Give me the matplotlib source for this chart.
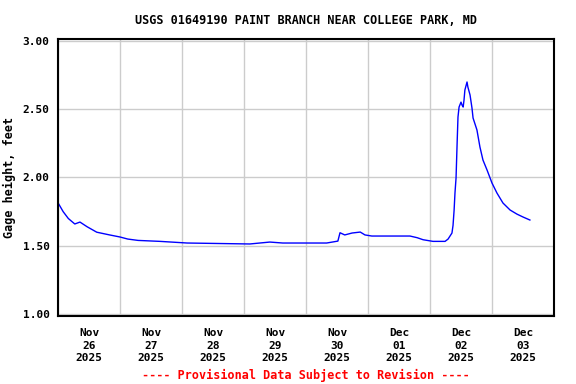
import pandas as pd
import matplotlib.dates as mdates
from matplotlib import pyplot as plt

plt.rcParams['font.family'] = 'DejaVu Sans Mono'
plt.rcParams['font.weight'] = 'bold'
plt.rcParams['axes.titleweight'] = 'bold'
plt.rcParams['axes.labelweight'] = 'bold'
plt.rcParams['font.size'] = 8

times = ["11-26 00:00", "11-26 02:00", "11-26 04:00", "11-26 06:30", "11-26 08:30",
         "11-26 11:15", "11-26 15:00", "11-26 20:00", "11-27 00:00", "11-27 03:00",
         "11-27 07:00", "11-27 15:30", "11-28 02:00", "11-29 02:15", "11-29 10:00",
         "11-29 15:00", "11-30 08:00", "11-30 12:20", "11-30 13:10", "11-30 15:00",
         "11-30 17:50", "11-30 21:00", "11-30 22:50", "12-01 01:30", "12-01 16:15",
         "12-01 19:00", "12-01 21:20", "12-02 01:10", "12-02 05:50", "12-02 07:00",
         "12-02 08:30", "12-02 08:55", "12-02 09:20", "12-02 09:40", "12-02 10:05",
         "12-02 10:30", "12-02 10:50", "12-02 11:15", "12-02 12:00", "12-02 12:25",
         "12-02 12:50", "12-02 13:10", "12-02 13:30", "12-02 14:20", "12-02 14:40",
         "12-02 15:30", "12-02 16:15", "12-02 16:40", "12-02 18:10", "12-02 19:20",
         "12-02 20:30", "12-02 22:05", "12-03 00:00", "12-03 01:55", "12-03 04:15",
         "12-03 07:00", "12-03 09:40", "12-03 12:00", "12-03 14:40"]
gage = [1.815, 1.75, 1.70, 1.66, 1.674,
        1.64, 1.60, 1.58, 1.565, 1.55,
        1.54, 1.533, 1.521, 1.514, 1.528,
        1.521, 1.521, 1.535, 1.596, 1.58,
        1.594, 1.601, 1.58, 1.572, 1.572,
        1.56, 1.545, 1.533, 1.533, 1.55,
        1.594, 1.65, 1.762, 1.886, 1.996,
        2.251, 2.441, 2.514, 2.55, 2.528,
        2.514, 2.565, 2.638, 2.697, 2.66,
        2.602, 2.507, 2.434, 2.347, 2.222,
        2.127, 2.054, 1.959, 1.886, 1.813,
        1.762, 1.732, 1.711, 1.689]

t = pd.to_datetime(["2025-" + s for s in times])

fig = plt.figure(figsize=(5.76, 3.84), dpi=100)
ax = fig.add_axes([58 / 576, 68 / 384, 496 / 576, 277 / 384])

ax.plot(t, gage, color='#0000ff', linewidth=1)

ax.set_xlim(pd.Timestamp("2025-11-26"), pd.Timestamp("2025-12-04"))
ax.set_ylim(0.988, 3.011)
ax.set_yticks([1.0, 1.5, 2.0, 2.5, 3.0])
ax.set_yticklabels(["1.00", "1.50", "2.00", "2.50", "3.00"])

ax.xaxis.set_major_locator(mdates.HourLocator(byhour=[12]))
ax.xaxis.set_major_formatter(mdates.DateFormatter("%b\n%d\n%Y"))
ax.xaxis.set_minor_locator(mdates.DayLocator())

ax.grid(True, which='minor', axis='x', color='#cccccc', linewidth=1)
ax.grid(True, which='major', axis='y', color='#cccccc', linewidth=1)
ax.set_axisbelow(True)
ax.tick_params(which='both', length=0)
ax.tick_params(axis='x', pad=9)
ax.tick_params(axis='y', pad=6)
for lbl in ax.get_xticklabels():
    lbl.set_linespacing(1.3)

for s in ax.spines.values():
    s.set_linewidth(1.5)

ax.set_ylabel("Gage height, feet", labelpad=5, fontsize=8.5)
ax.set_title("USGS 01649190 PAINT BRANCH NEAR COLLEGE PARK, MD", pad=11, fontsize=8.5)
fig.text(306 / 576, 9 / 384, "---- Provisional Data Subject to Revision ----",
         color='red', ha='center', va='center', fontsize=8.5)

plt.savefig("out.png")
